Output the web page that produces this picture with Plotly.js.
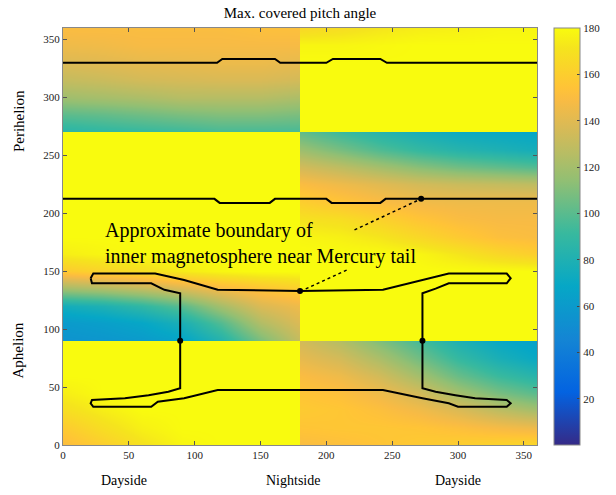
<!DOCTYPE html>
<html>
<head>
<meta charset="utf-8">
<script src="https://cdn.plot.ly/plotly-3.0.1.min.js"></script>
<style>
html,body{margin:0;padding:0;background:#fff;}
#chart{width:616px;height:495px;}
</style>
</head>
<body>
<div id="chart"></div>
<script>
// ---- data ----
const lonDeg = [0, 30, 60, 90, 120, 150, 179.9, 180.1, 210, 240, 270, 300, 330, 360];
const anomalyDeg = [0, 15, 30, 45, 60, 75, 89.9, 90.1, 105, 120, 135, 150, 165, 180, 195, 210, 225, 240, 255, 269.9, 270.1, 285, 300, 315, 330, 345, 360];
const maxPitch = [
  [150,160,170,178,180,180,180, 150,152,155,158,160,163,165],
  [158,168,176,180,180,180,180, 155,156,156,155,152,148,145],
  [168,175,180,180,180,180,180, 158,156,152,146,138,128,120],
  [175,180,180,180,180,180,180, 155,152,145,135,120,108,100],
  [180,180,180,180,180,180,180, 150,145,135,120,104,92,84],
  [180,180,180,180,180,180,180, 142,135,122,106,90,78,70],
  [180,180,180,180,180,180,180, 135,125,110,95,80,70,64],
  [55,57,60,66,82,108,130, 180,180,180,180,180,180,180],
  [60,63,68,78,98,124,138, 180,180,180,180,180,180,180],
  [75,80,88,100,120,138,145, 180,180,180,180,180,180,180],
  [118,122,128,136,146,154,160, 180,180,180,180,180,180,180],
  [158,163,168,174,178,180,180, 180,180,180,180,180,180,180],
  [175,178,180,180,180,180,180, 180,180,180,178,172,165,160],
  [180,180,180,180,180,180,180, 178,176,172,165,158,152,150],
  [180,180,180,180,180,180,180, 170,168,162,155,150,148,148],
  [180,180,180,180,180,180,180, 160,155,150,146,145,145,145],
  [180,180,180,180,180,180,180, 150,145,140,135,132,130,128],
  [180,180,180,180,180,180,180, 135,128,120,112,106,102,98],
  [180,180,180,180,180,180,180, 118,108,98,90,84,80,76],
  [180,180,180,180,180,180,180, 102,92,84,77,72,70,68],
  [85,88,90,92,95,95,95, 180,180,180,180,180,180,180],
  [100,102,105,108,110,110,108, 180,180,180,180,180,180,180],
  [118,120,122,125,125,125,122, 180,180,180,180,180,180,180],
  [130,132,135,136,137,137,135, 180,180,180,180,180,180,180],
  [138,140,142,143,144,144,142, 180,180,180,180,180,180,180],
  [145,146,148,148,148,148,148, 178,178,179,180,180,180,180],
  [150,150,150,150,150,152,152, 165,168,172,175,176,178,178]
];

// boundary lines
const upperLineX = [0, 117, 121, 161, 165, 200, 205, 241, 246, 360];
const upperLineY = [330, 330, 333.3, 333.3, 330, 330, 333.3, 333.3, 330, 330];
const lowerLineX = [0, 115, 119, 157, 161, 200, 204, 241, 245, 360];
const lowerLineY = [212.5, 212.5, 209, 209, 212.5, 212.5, 209, 209, 212.5, 212.5];
const boneX = [21, 23, 70, 92, 117.5, 180, 243, 273, 293, 337, 340, 337, 293, 283, 273, 273, 283, 298, 313, 337, 340, 337, 300, 293, 273, 243, 117.5, 92, 72, 67, 23, 21, 22, 47, 65, 80, 89, 89, 77, 67, 22, 21];
const boneY = [144, 148, 148, 142.5, 134, 133, 134, 142.5, 148, 148, 144, 139.6, 139.6, 135, 131, 49, 46, 43, 40.3, 38.9, 36, 33, 33, 36, 40.3, 47.5, 47.5, 40.3, 37.4, 33, 33, 36, 38.9, 40.3, 43, 46, 49, 131, 134, 139.6, 139.6, 144];
const dotX = [180, 89, 273, 272];
const dotY = [133, 90, 90, 212.5];
const pointerX = [[221.4, 272], [215.4, 181]];
const pointerY = [[185.7, 212.5], [151, 133]];

const xTicks = [0, 50, 100, 150, 200, 250, 300, 350];
const yTicks = [0, 50, 100, 150, 200, 250, 300, 350];
const cbTicks = [20, 40, 60, 80, 100, 120, 140, 160, 180];
const sideLabels = ['Dayside', 'Nightside', 'Dayside'];
const sideLabelX = [46, 175, 300];

const parula = [
  [0.0, '#352a87'], [0.127, '#0363e1'], [0.254, '#1485d4'], [0.381, '#06a7c6'],
  [0.508, '#38b99e'], [0.635, '#92bf73'], [0.698, '#b7bd64'], [0.762, '#d9ba56'],
  [0.825, '#f8bb44'], [0.857, '#ffc337'], [0.889, '#fcce2e'], [0.952, '#f5e41d'], [1.0, '#f9fb0e']
];

const serif = 'Liberation Serif, Times New Roman, serif';

const traces = [
  {
    type: 'heatmap', x: lonDeg, y: anomalyDeg, z: maxPitch,
    zmin: 0, zmax: 180, zsmooth: 'best', colorscale: parula,
    hoverinfo: 'skip',
    colorbar: {
      x: 1.0356, xanchor: 'left', xpad: 0, ypad: 0, y: 0, yanchor: 'bottom', len: 1,
      thickness: 26, outlinewidth: 1, outlinecolor: '#888',
      tickvals: cbTicks, ticks: 'inside', ticklen: 3, tickcolor: '#444',
      tickfont: {family: serif, size: 11, color: '#222'}
    }
  },
  {type: 'scatter', mode: 'lines', x: upperLineX, y: upperLineY, line: {color: '#000', width: 2}, hoverinfo: 'skip'},
  {type: 'scatter', mode: 'lines', x: lowerLineX, y: lowerLineY, line: {color: '#000', width: 2}, hoverinfo: 'skip'},
  {type: 'scatter', mode: 'lines', x: boneX, y: boneY, line: {color: '#000', width: 2}, hoverinfo: 'skip'},
  {type: 'scatter', mode: 'lines', x: pointerX[0], y: pointerY[0], line: {color: '#000', width: 1.5, dash: 'dot'}, hoverinfo: 'skip'},
  {type: 'scatter', mode: 'lines', x: pointerX[1], y: pointerY[1], line: {color: '#000', width: 1.5, dash: 'dot'}, hoverinfo: 'skip'},
  {type: 'scatter', mode: 'markers', x: dotX, y: dotY, marker: {color: '#000', size: 6}, hoverinfo: 'skip'}
];

const annotations = [
  {xref: 'x', yref: 'y', x: 30, y: 174, xanchor: 'left', yanchor: 'middle', showarrow: false, align: 'left',
   text: 'Approximate boundary of<br>inner magnetosphere near Mercury tail',
   font: {family: serif, size: 20, color: '#000'}},
  {xref: 'paper', yref: 'y', x: -0.094, xanchor: 'center', y: 280, textangle: -90, showarrow: false, text: 'Perihelion',
   font: {family: serif, size: 15, color: '#000'}},
  {xref: 'paper', yref: 'y', x: -0.094, xanchor: 'center', y: 82, textangle: -90, showarrow: false, text: 'Aphelion',
   font: {family: serif, size: 15, color: '#000'}}
];
sideLabels.forEach((t, i) => annotations.push({
  xref: 'x', yref: 'paper', x: sideLabelX[i], y: -0.085, yanchor: 'middle', showarrow: false, text: t,
  font: {family: serif, size: 14, color: '#000'}
}));

const layout = {
  width: 616, height: 495,
  margin: {l: 63, r: 76, t: 28, b: 50},
  paper_bgcolor: '#fff', plot_bgcolor: '#fff',
  showlegend: false,
  title: {text: 'Max. covered pitch angle', x: 0.5, xref: 'paper', y: 0.975, yanchor: 'middle',
          font: {family: serif, size: 15, color: '#000'}},
  xaxis: {range: [0, 360], tickvals: xTicks, ticks: 'inside', ticklen: 4, tickcolor: '#555',
          showgrid: false, zeroline: false, mirror: 'ticks', showline: true, linecolor: '#888', linewidth: 1,
          tickfont: {family: serif, size: 11, color: '#222'}},
  yaxis: {range: [0, 360], tickvals: yTicks, ticks: 'inside', ticklen: 4, tickcolor: '#555',
          showgrid: false, zeroline: false, mirror: 'ticks', showline: true, linecolor: '#888', linewidth: 1,
          tickfont: {family: serif, size: 11, color: '#222'}},
  annotations: annotations
};

Plotly.newPlot('chart', traces, layout, {staticPlot: true, displayModeBar: false});
</script>
</body>
</html>
